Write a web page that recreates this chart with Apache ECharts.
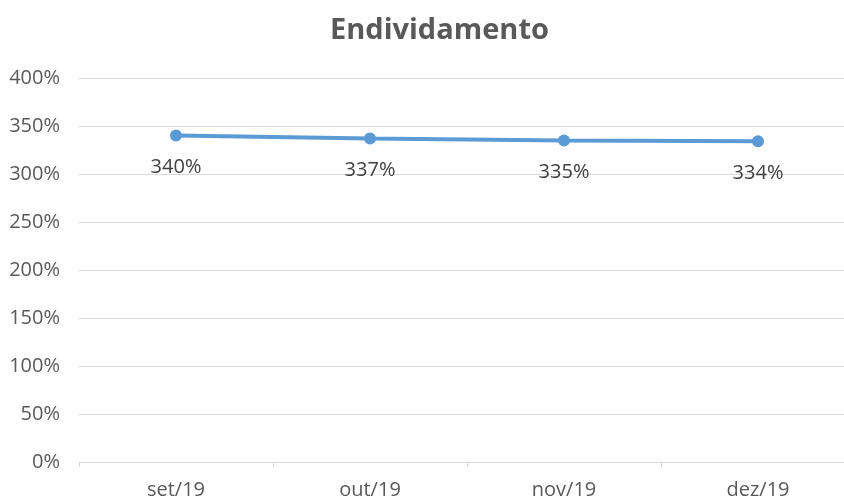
<!DOCTYPE html>
<html>
<head>
<meta charset="utf-8">
<script src="https://cdn.jsdelivr.net/npm/echarts@6/dist/echarts.min.js"></script>
<style>html,body{margin:0;padding:0;background:#fff;}#c{width:844px;height:500px;}</style>
</head>
<body>
<div id="c"></div>
<script>
const categories = ['set/19', 'out/19', 'nov/19', 'dez/19'];
const values = [340, 337, 335, 334];
const title = 'Endividamento';

const chart = echarts.init(document.getElementById('c'));
chart.setOption({
  animation: false,
  backgroundColor: '#ffffff',
  title: {
    text: title,
    left: 325,
    top: 11,
    textStyle: { fontFamily: 'Open Sans', fontWeight: 'bold', fontSize: 29, color: '#595959' }
  },
  grid: { left: 79, width: 776, top: 78, bottom: 38, containLabel: false, outerBoundsMode: 'none' },
  xAxis: {
    type: 'category',
    data: categories,
    boundaryGap: true,
    axisLine: { lineStyle: { color: '#d9d9d9', width: 1 } },
    axisTick: { show: true, length: 5, lineStyle: { color: '#d9d9d9' } },
    axisLabel: { color: '#595959', fontFamily: 'Open Sans', fontSize: 20, margin: 18 }
  },
  yAxis: {
    type: 'value',
    min: 0, max: 400, interval: 50,
    axisLine: { show: false },
    axisTick: { show: false },
    splitLine: { lineStyle: { color: '#d9d9d9', width: 1 } },
    axisLabel: { formatter: '{value}%', color: '#595959', fontFamily: 'Open Sans', fontSize: 20, margin: 19 }
  },
  series: [{
    type: 'line',
    data: values,
    symbol: 'circle',
    symbolSize: 12,
    lineStyle: { color: '#5b9bd5', width: 4 },
    itemStyle: { color: '#5b9bd5' },
    label: {
      show: true, position: 'bottom', distance: 16,
      formatter: '{c}%', color: '#404040', fontFamily: 'Open Sans', fontSize: 20
    }
  }]
});
</script>
</body>
</html>
